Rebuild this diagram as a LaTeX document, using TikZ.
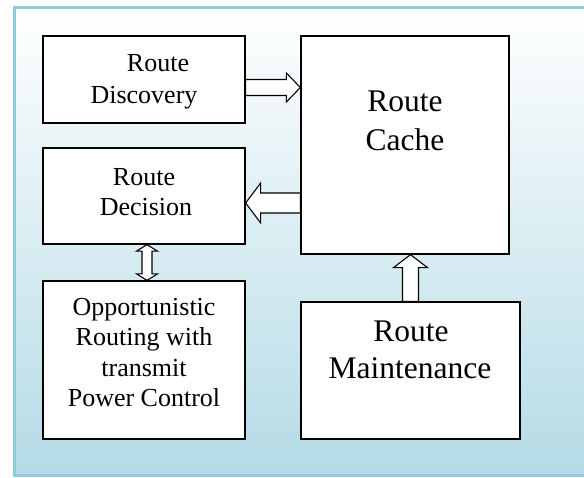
\documentclass[tikz,border=0pt]{standalone}
\usepackage{fontspec}
\setmainfont{Liberation Serif}
\usetikzlibrary{calc}
\definecolor{frameblue}{RGB}{146,204,218}
\definecolor{bgbottom}{RGB}{180,219,230}
\begin{document}
\begin{tikzpicture}[x=1pt,y=1pt,
  box/.style={draw, line width=1.3pt, fill=white, rectangle, inner sep=0pt},
  sm/.style={font=\fontsize{26}{30}\selectfont, anchor=base, inner sep=0pt},
  lg/.style={font=\fontsize{31.5}{38}\selectfont, anchor=base, inner sep=0pt},
  arr/.style={draw, fill=white, line width=1.1pt, line join=miter}]
\clip (0,0) rectangle (584,-477);
\shade[top color=white, bottom color=bgbottom] (14,-7) rectangle (600,-475);
\draw[frameblue, line width=3pt] (14,-7) rectangle (600,-475);

% boxes
\node[box, minimum width=202pt, minimum height=87pt] (disc) at (144,-79.5) {};
\node[box, minimum width=202pt, minimum height=96pt] (dec) at (144,-196) {};
\node[box, minimum width=202pt, minimum height=158pt] (opp) at (144,-360) {};
\node[box, minimum width=208pt, minimum height=218pt] (cache) at (405,-145) {};
\node[box, minimum width=219pt, minimum height=137pt] (maint) at (410.5,-370.5) {};

% texts
\node[sm] (discA) at (158,-71.7) {Route};
\node[sm] (discB) at (144,-103.3) {Discovery};
\node[sm] (decA) at (144,-185) {Route};
\node[sm] (decB) at (146,-215) {Decision};
\node[sm] (oppA) at (144,-315) {Opportunistic};
\node[sm] (oppB) at (144,-345) {Routing with};
\node[sm] (oppC) at (144,-376.7) {transmit};
\node[sm] (oppD) at (144,-406.7) {Power Control};
\node[lg] (cacheA) at (405,-111.7) {Route};
\node[lg] (cacheB) at (405,-150) {Cache};
\node[lg] (maintA) at (411,-341.7) {Route};
\node[lg] (maintB) at (410,-378.3) {Maintenance};

% discovery -> cache
\coordinate (r1s) at ($(disc.east)+(0,-8)$);
\coordinate (r1t) at (cache.west |- r1s);
\draw[arr] ($(r1s)+(0,8)$) -- ($(r1t)+(-14,8)$) -- ($(r1t)+(-14,14.5)$) -- (r1t)
  -- ($(r1t)+(-14,-14.5)$) -- ($(r1t)+(-14,-8)$) -- ($(r1s)+(0,-8)$) -- cycle;

% cache -> decision
\coordinate (l1s) at ($(cache.west)+(0,-58)$);
\coordinate (l1t) at (dec.east |- l1s);
\draw[arr] ($(l1s)+(0,10)$) -- ($(l1t)+(15,10)$) -- ($(l1t)+(15,20)$) -- (l1t)
  -- ($(l1t)+(15,-20)$) -- ($(l1t)+(15,-10)$) -- ($(l1s)+(0,-10)$) -- cycle;

% decision <-> opportunistic
\coordinate (v1) at ($(dec.south)+(3,0)$);
\coordinate (v2) at (v1 |- opp.north);
\draw[arr] (v1) -- ($(v1)+(10.5,-6.5)$) -- ($(v1)+(5,-6.5)$) -- ($(v2)+(5,6.5)$)
  -- ($(v2)+(10.5,6.5)$) -- (v2) -- ($(v2)+(-10.5,6.5)$) -- ($(v2)+(-5,6.5)$)
  -- ($(v1)+(-5,-6.5)$) -- ($(v1)+(-10.5,-6.5)$) -- cycle;

% maintenance -> cache
\coordinate (u1) at (maint.north);
\coordinate (u2) at (u1 |- cache.south);
\draw[arr] ($(u1)+(-8,0)$) -- ($(u2)+(-8,-13)$) -- ($(u2)+(-17,-13)$) -- (u2)
  -- ($(u2)+(17,-13)$) -- ($(u2)+(8,-13)$) -- ($(u1)+(8,0)$) -- cycle;
\end{tikzpicture}
\end{document}
